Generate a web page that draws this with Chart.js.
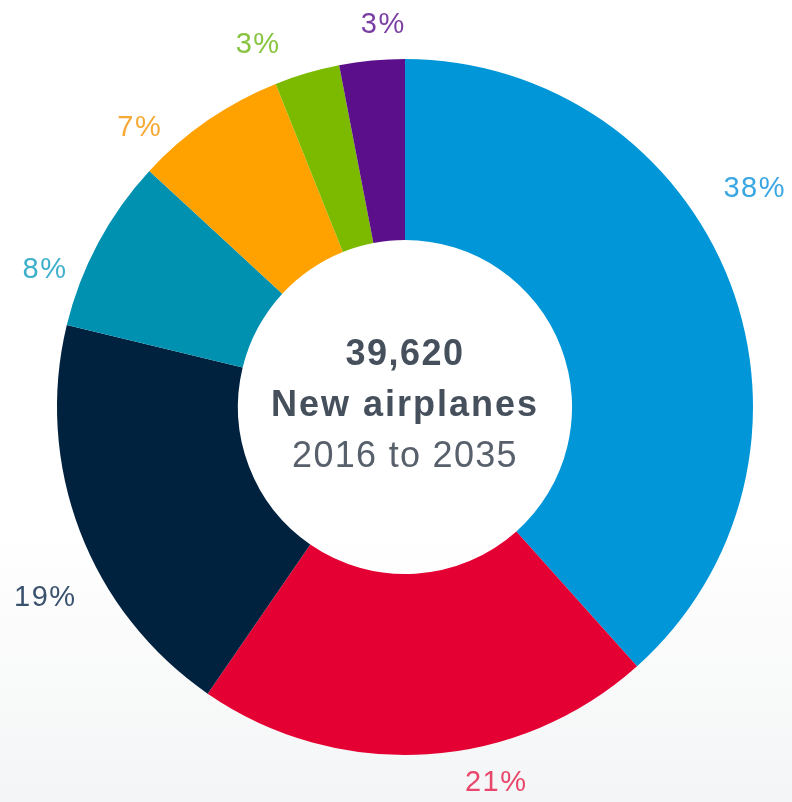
<!DOCTYPE html>
<html>
<head>
<meta charset="utf-8">
<title>New airplanes 2016 to 2035</title>
<script src="https://cdn.jsdelivr.net/npm/chart.js@4.4.1/dist/chart.umd.min.js"></script>
<style>
  html, body {
    margin: 0;
    padding: 0;
    width: 792px;
    height: 802px;
    overflow: hidden;
    background: linear-gradient(to bottom, #ffffff 0%, #ffffff 66%, #f4f5f6 100%);
  }
  #wrap {
    position: relative;
    width: 792px;
    height: 802px;
  }
</style>
</head>
<body>
<div id="wrap"><canvas id="myChart" width="792" height="802"></canvas></div>
<script>
const segments = ["Single aisle A", "Single aisle B", "Widebody A", "Regional jets", "Widebody B", "Freighter", "Other"];
const shares = [38, 21, 19, 8, 7, 3, 3];
const centerLines = ["39,620", "New airplanes", "2016 to 2035"];

const sliceColors = ["#0096d8", "#e40032", "#01223f", "#0091b1", "#ffa200", "#7cba00", "#5c0f8b"];
const labelColors = ["#3ba7e2", "#e8476b", "#3a526e", "#3fb0cc", "#f6aa35", "#87c43f", "#7b3fa4"];
// label placement: angle nudge (degrees) and gap outside the ring
const labelNudge = [-11, -10, -7, -7.4, -9, -5.7, 2.2];
const labelGap = [64, 39, 59, 37, 37, 43, 35];

const ctx = document.getElementById("myChart").getContext("2d");

const outsideLabels = {
  id: "outsideLabels",
  afterDatasetsDraw(chart) {
    const c = chart.ctx;
    const meta = chart.getDatasetMeta(0);
    c.save();
    c.font = "29px 'Liberation Sans', Arial, sans-serif";
    c.letterSpacing = "1.5px";
    c.textAlign = "center";
    c.textBaseline = "middle";
    meta.data.forEach((arc, i) => {
      const mid = (arc.startAngle + arc.endAngle) / 2 + labelNudge[i] * Math.PI / 180;
      const r = arc.outerRadius + labelGap[i];
      c.fillStyle = labelColors[i];
      c.fillText(shares[i] + "%", arc.x + Math.cos(mid) * r, arc.y + Math.sin(mid) * r);
    });
    c.restore();
  },
};

const centerText = {
  id: "centerText",
  afterDraw(chart) {
    const c = chart.ctx;
    const arc = chart.getDatasetMeta(0).data[0];
    c.save();
    c.textAlign = "center";
    c.textBaseline = "middle";
    c.fillStyle = "#45505c";
    c.letterSpacing = "1.5px";
    c.font = "bold 36px 'Liberation Sans', Arial, sans-serif";
    c.fillText(centerLines[0], arc.x, arc.y - 52);
    c.letterSpacing = "2px";
    c.fillText(centerLines[1], arc.x, arc.y - 1);
    c.fillStyle = "#57606b";
    c.letterSpacing = "1.3px";
    c.font = "36px 'Liberation Sans', Arial, sans-serif";
    c.fillText(centerLines[2], arc.x, arc.y + 50);
    c.restore();
  },
};

const myChart = new Chart(ctx, {
  type: "doughnut",
  data: {
    labels: segments,
    datasets: [
      {
        data: shares,
        backgroundColor: sliceColors,
        borderWidth: 0,
      },
    ],
  },
  options: {
    responsive: false,
    animation: false,
    cutout: "48%",
    layout: {
      padding: { left: 57, right: 39, top: 59, bottom: 47 },
    },
    plugins: {
      legend: { display: false },
      tooltip: { enabled: false },
    },
  },
  plugins: [outsideLabels, centerText],
});
</script>
</body>
</html>
